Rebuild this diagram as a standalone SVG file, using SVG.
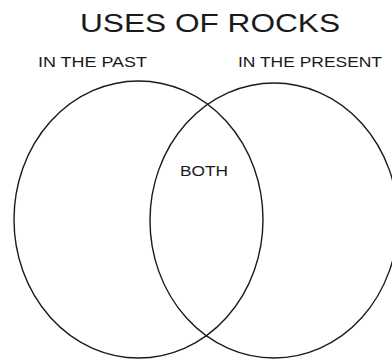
<svg xmlns="http://www.w3.org/2000/svg" width="392" height="360" viewBox="0 0 392 360">
<style>
.set{fill:none;stroke:#1a1a1a;stroke-width:1.4}
.t{font-family:"Liberation Sans",Arial,sans-serif;fill:#1a1a1a}
</style>
<rect width="392" height="360" fill="#fff"/>
<text class="t" x="210" y="32" font-size="25" text-anchor="middle" textLength="260" lengthAdjust="spacingAndGlyphs">USES OF ROCKS</text>
<g id="past">
<ellipse class="set" cx="138.5" cy="219.5" rx="124.5" ry="138.5"/>
<text class="t" x="38" y="67" font-size="15" textLength="109" lengthAdjust="spacingAndGlyphs">IN THE PAST</text>
</g>
<g id="present">
<ellipse class="set" cx="274" cy="220.5" rx="124" ry="137.5"/>
<text class="t" x="238" y="67" font-size="15" textLength="144" lengthAdjust="spacingAndGlyphs">IN THE PRESENT</text>
</g>
<g id="both">
<text class="t" x="180" y="176" font-size="14" textLength="48" lengthAdjust="spacingAndGlyphs">BOTH</text>
</g>
<g id="connectors"></g>
</svg>
